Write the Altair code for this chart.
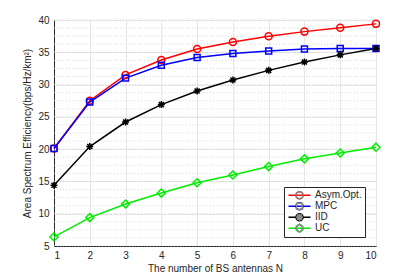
import altair as alt
import pandas as pd

N = [1, 2, 3, 4, 5, 6, 7, 8, 9, 10]
series_names = ["Asym.Opt.", "MPC", "IID", "UC"]
asym = [20.1, 27.5, 31.5, 33.8, 35.5, 36.6, 37.5, 38.2, 38.8, 39.4]
mpc = [20.1, 27.3, 31.0, 33.0, 34.2, 34.8, 35.2, 35.5, 35.6, 35.6]
iid = [14.4, 20.4, 24.2, 26.9, 29.0, 30.7, 32.2, 33.5, 34.6, 35.6]
uc = [6.4, 9.4, 11.5, 13.2, 14.8, 16.0, 17.3, 18.5, 19.4, 20.3]
colors = ["#ff0000", "#0000ff", "#000000", "#00ee00"]
y_ticks = [5, 10, 15, 20, 25, 30, 35, 40]
y_minor = [5 + 1.25 * i for i in range(29)]

rows = []
for name, vals in zip(series_names, [asym, mpc, iid, uc]):
    for n, v in zip(N, vals):
        rows.append({"N": n, "ASE": v, "series": name, "curve": name})
df = pd.DataFrame(rows)

circle = "M-1,0A1,1 0 1,1 1,0A1,1 0 1,1 -1,0Z"
square = "M-0.85,-0.85H0.85V0.85H-0.85Z"
star = "M-1,0L1,0M0,-1L0,1M-0.72,-0.72L0.72,0.72M-0.72,0.72L0.72,-0.72"
diamond = "M0,-1.15L1.15,0L0,1.15L-1.15,0Z"
shapes = [circle, square, star, diamond]

xs = alt.Scale(domain=[1, 10], nice=False)
ys = alt.Scale(domain=[5, 40], nice=False)
x_axis = alt.Axis(values=N, title="The number of BS antennas N", grid=True, format="d")
y_axis = alt.Axis(values=y_ticks, title="Area Spectrum Efficiency(bps/Hz/km²)", grid=True)

leg_common = dict(
    title=None, orient="none", legendX=230, legendY=167,
    padding=3, rowPadding=0, labelOffset=10.5, labelFontSize=10,
    symbolOffset=7.5, symbolStrokeWidth=1.5, symbolSize=49, clipHeight=10.3,
    labelColor="#262626", labelFont="Liberation Sans",
)

minor = alt.Chart(pd.DataFrame({"y": y_minor})).mark_rule(
    color="#cfcfcf", strokeDash=[1, 2], strokeWidth=0.8
).encode(y=alt.Y("y:Q", scale=ys, axis=y_axis))

base = alt.Chart(df)

lines = base.mark_line(strokeWidth=1.5).encode(
    x=alt.X("N:Q", scale=xs, axis=x_axis),
    y=alt.Y("ASE:Q", scale=ys, axis=y_axis),
    stroke=alt.Stroke(
        "curve:N", sort=series_names,
        scale=alt.Scale(range=colors),
        legend=alt.Legend(symbolType="M-3.15,0H3.15", strokeColor="#262626",
                          fillColor="white", **leg_common),
    ),
)

points = base.mark_point(filled=False, strokeWidth=1.5, size=49, opacity=1).encode(
    x=alt.X("N:Q", scale=xs, axis=x_axis),
    y=alt.Y("ASE:Q", scale=ys, axis=y_axis),
    color=alt.Color(
        "series:N", sort=series_names,
        scale=alt.Scale(range=colors),
        legend=alt.Legend(labelExpr="''", **leg_common),
    ),
    shape=alt.Shape(
        "series:N", sort=series_names,
        scale=alt.Scale(range=shapes),
        legend=alt.Legend(labelExpr="''", **leg_common),
    ),
)

chart = alt.layer(minor, lines, points).properties(
    width=322, height=226,
    autosize=alt.AutoSizeParams(type="none"),
    padding={"left": 46, "top": 12, "right": 31, "bottom": 30},
).configure_view(stroke="#262626", strokeWidth=1).configure_axis(
    labelFont="Liberation Sans", titleFont="Liberation Sans",
    labelFontSize=10, titleFontSize=10, labelColor="#262626", titleColor="#262626",
    gridColor="#e6e6e6", gridWidth=1, domainColor="#262626",
    ticks=False, titleFontWeight="normal",
).configure_axisX(titlePadding=3, labelPadding=4).configure_axisY(
    titlePadding=5, labelPadding=5
)

chart.save("out.html", embed_options={"renderer": "svg", "actions": False})
